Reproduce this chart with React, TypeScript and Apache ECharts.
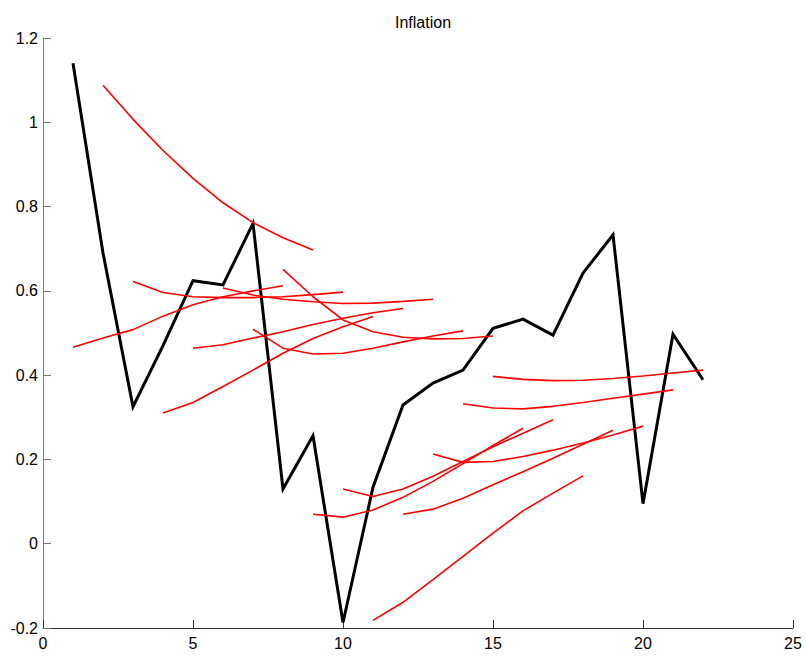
import React, { useEffect, useRef } from "react";
import * as echarts from "echarts";

// Realised inflation, periods 1..22
const periods: number[] = [1, 2, 3, 4, 5, 6, 7, 8, 9, 10, 11, 12, 13, 14, 15, 16, 17, 18, 19, 20, 21, 22];
const actual: number[] = [
  1.14, 0.69, 0.325, 0.47, 0.624, 0.614, 0.76, 0.13, 0.256, -0.187, 0.134,
  0.329, 0.381, 0.412, 0.511, 0.533, 0.495, 0.642, 0.733, 0.095, 0.497, 0.389,
];

// Forecast paths: first period of each path and its eight values
const forecastStarts: number[] = [1, 2, 3, 4, 5, 6, 7, 8, 9, 10, 11, 12, 13, 14, 15];
const forecastPaths: number[][] = [
  [0.466, 0.488, 0.508, 0.54, 0.567, 0.586, 0.6, 0.612],
  [1.088, 1.007, 0.933, 0.867, 0.809, 0.762, 0.726, 0.697],
  [0.622, 0.596, 0.586, 0.584, 0.584, 0.586, 0.591, 0.597],
  [0.31, 0.335, 0.373, 0.412, 0.452, 0.487, 0.515, 0.539],
  [0.464, 0.472, 0.488, 0.503, 0.52, 0.535, 0.548, 0.558],
  [0.607, 0.59, 0.58, 0.574, 0.57, 0.571, 0.575, 0.58],
  [0.509, 0.464, 0.45, 0.452, 0.464, 0.479, 0.493, 0.505],
  [0.651, 0.586, 0.531, 0.503, 0.49, 0.486, 0.487, 0.493],
  [0.07, 0.063, 0.08, 0.11, 0.148, 0.19, 0.233, 0.274],
  [0.13, 0.112, 0.13, 0.16, 0.195, 0.23, 0.262, 0.294],
  [-0.182, -0.139, -0.085, -0.03, 0.025, 0.078, 0.12, 0.161],
  [0.07, 0.082, 0.108, 0.14, 0.171, 0.203, 0.236, 0.269],
  [0.213, 0.193, 0.195, 0.207, 0.222, 0.239, 0.258, 0.279],
  [0.332, 0.322, 0.32, 0.326, 0.335, 0.345, 0.355, 0.365],
  [0.397, 0.39, 0.387, 0.388, 0.392, 0.398, 0.405, 0.412],
];

const FONT = "'Liberation Sans', Arial, Helvetica, sans-serif";

export default function App() {
  const ref = useRef<HTMLDivElement>(null);

  useEffect(() => {
    if (!ref.current) return;
    const chart = echarts.init(ref.current, undefined, { renderer: "svg" });

    const actualSeries = {
      type: "line",
      name: "actual",
      data: periods.map((p, i) => [p, actual[i]]),
      showSymbol: false,
      symbol: "none",
      lineStyle: { color: "#000000", width: 3, join: "miter" },
      z: 2,
    };

    const forecastSeries = forecastPaths.map((path, k) => ({
      type: "line",
      name: "forecast" + forecastStarts[k],
      data: path.map((v, j) => [forecastStarts[k] + j, v]),
      showSymbol: false,
      symbol: "none",
      lineStyle: { color: "#ff0000", width: 1.6 },
      z: 3,
    }));

    chart.setOption({
      animation: false,
      backgroundColor: "#ffffff",
      title: {
        text: "Inflation",
        left: 418,
        top: 9,
        textAlign: "center",
        textStyle: { fontFamily: FONT, fontSize: 16, fontWeight: "normal", color: "#000" },
      },
      grid: { left: 43, top: 38, right: 13, bottom: 28, containLabel: false },
      xAxis: {
        type: "value",
        min: 0,
        max: 25,
        interval: 5,
        axisLine: { show: true, onZero: false, lineStyle: { color: "#333", width: 1 } },
        axisTick: { show: true, inside: true, length: 8, lineStyle: { color: "#333" } },
        axisLabel: { margin: 7, fontFamily: FONT, fontSize: 16, color: "#000" },
        splitLine: { show: false },
      },
      yAxis: {
        type: "value",
        min: -0.2,
        max: 1.2,
        interval: 0.2,
        axisLine: { show: true, onZero: false, lineStyle: { color: "#777", width: 1 } },
        axisTick: { show: true, inside: true, length: 8, lineStyle: { color: "#777" } },
        axisLabel: { margin: 5, fontFamily: FONT, fontSize: 16, color: "#000" },
        splitLine: { show: false },
      },
      series: [actualSeries, ...forecastSeries],
    });

    return () => chart.dispose();
  }, []);

  return (
    <div
      ref={ref}
      style={{ position: "fixed", left: 0, top: 0, width: 806, height: 656, background: "#fff" }}
    />
  );
}
